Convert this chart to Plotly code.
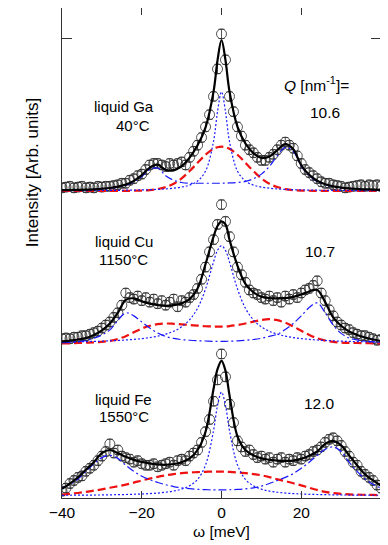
import plotly.graph_objects as go

# ---------------- data ----------------
# energy transfer grid of the fitted curves [meV]
W = [-40, -38, -36, -34, -32, -30, -28, -26, -24, -22, -20, -18, -16, -14, -12, -10, -8, -6, -4, -2,
     -1, 0, 1,
     2, 4, 6, 8, 10, 12, 14, 16, 18, 20, 22, 24, 26, 28, 30, 32, 34, 36, 38, 40]

# measured points (1 meV steps)
OMEGA_DATA = list(range(-40, 41))

GA_DATA = [.02, .025, .03, .02, .025, .03, .02, .025, .02, .03, .025, .03, .03, .035, .04, .05, .05, .07, .08, .1,
           .11, .14, .17, .18, .18, .17, .16, .18, .17, .18, .19, .17, .22, .26, .3, .35, .42, .5, .62, .8,
           1.03, .86, .62, .52, .42, .36, .3, .27, .25, .22, .2, .2, .22, .24, .27, .3, .32, .3, .28, .23,
           .18, .14, .12, .1, .08, .06, .05, .05, .04, .035, .03, .02, .025, .03, .035, .04, .03, .04, .035, .04, .03]
CU_DATA = [.03, .035, .03, .04, .04, .05, .05, .06, .07, .08, .1, .12, .14, .17, .2, .25, .33, .3, .29, .31,
           .28, .3, .27, .29, .26, .28, .25, .27, .29, .24, .28, .27, .3, .32, .36, .42, .5, .6, .68, .78,
           .91, .8, .7, .6, .5, .45, .4, .35, .33, .32, .3, .29, .31, .28, .3, .27, .31, .29, .32, .3,
           .33, .35, .36, .38, .41, .33, .28, .22, .18, .14, .12, .1, .09, .07, .06, .05, .05, .04, .03, .02, .025]
FE_DATA = [.03, .05, .08, .1, .12, .13, .16, .18, .2, .23, .26, .29, .34, .28, .3, .26, .25, .24, .22, .23,
           .21, .2, .2, .21, .19, .2, .21, .22, .2, .23, .24, .23, .26, .28, .3, .35, .42, .5, .62, .76,
           .93, .78, .6, .48, .36, .32, .29, .3, .27, .25, .26, .24, .25, .22, .24, .25, .22, .24, .23, .25,
           .24, .26, .27, .29, .3, .32, .35, .37, .38, .36, .33, .29, .26, .22, .2, .16, .14, .12, .1, .07, .05]

# fit components
GA_FIT = [0.005, 0.006, 0.007, 0.008, 0.0105, 0.014, 0.019, 0.028, 0.041, 0.066, 0.103, 0.153, 0.172, 0.138, 0.135, 0.162, 0.218, 0.299, 0.417, 0.651,
          0.856, 0.99, 0.857,
          0.653, 0.422, 0.311, 0.248, 0.217, 0.225, 0.268, 0.307, 0.273, 0.168, 0.106, 0.067, 0.044, 0.030, 0.022, 0.0165, 0.013, 0.010, 0.0088, 0.0066]
GA_CENTRAL = [0.0016, 0.0018, 0.002, 0.0022, 0.0025, 0.0029, 0.0033, 0.0038, 0.0045, 0.0053, 0.0064, 0.0079, 0.01, 0.013, 0.0176, 0.025, 0.038, 0.065, 0.13, 0.325,
              0.52, 0.65, 0.52,
              0.325, 0.13, 0.065, 0.038, 0.025, 0.0176, 0.013, 0.01, 0.0079, 0.0064, 0.0053, 0.0045, 0.0038, 0.0033, 0.0029, 0.0025, 0.0022, 0.002, 0.0018, 0.0016]
GA_BROAD = [0, 0, 0, 0, 0, 0, 0, 0, 0, 0.001, 0.002, 0.005, 0.012, 0.025, 0.047, 0.082, 0.13, 0.184, 0.237, 0.276,
            0.286, 0.29, 0.286,
            0.276, 0.237, 0.184, 0.13, 0.082, 0.047, 0.025, 0.012, 0.005, 0.002, 0.001, 0, 0, 0, 0, 0, 0, 0, 0, 0]
GA_SIDE = [0.003, 0.004, 0.005, 0.006, 0.008, 0.011, 0.016, 0.024, 0.036, 0.06, 0.095, 0.14, 0.15, 0.1, 0.07, 0.055, 0.05, 0.05, 0.05, 0.05,
           0.05, 0.05, 0.051,
           0.052, 0.055, 0.062, 0.08, 0.11, 0.16, 0.23, 0.285, 0.26, 0.16, 0.1, 0.062, 0.04, 0.027, 0.019, 0.014, 0.011, 0.008, 0.007, 0.005]

CU_FIT = [0.012, 0.018, 0.025, 0.035, 0.055, 0.085, 0.13, 0.2, 0.285, 0.295, 0.275, 0.26, 0.25, 0.245, 0.25, 0.262, 0.29, 0.36, 0.52, 0.7,
          0.77, 0.8, 0.78,
          0.68, 0.51, 0.39, 0.335, 0.305, 0.297, 0.295, 0.297, 0.305, 0.32, 0.34, 0.35, 0.27, 0.17, 0.115, 0.078, 0.055, 0.038, 0.025, 0.015]
CU_CENTRAL = [0.0079, 0.0088, 0.0098, 0.011, 0.0125, 0.014, 0.016, 0.0186, 0.0218, 0.0257, 0.031, 0.0376, 0.047, 0.06, 0.079, 0.108, 0.154, 0.23, 0.357, 0.534,
              0.61, 0.64, 0.61,
              0.534, 0.357, 0.23, 0.154, 0.108, 0.079, 0.06, 0.047, 0.0376, 0.031, 0.0257, 0.0218, 0.0186, 0.016, 0.014, 0.0125, 0.011, 0.0098, 0.0088, 0.0079]
CU_BROAD = [0, 0, 0.002, 0.004, 0.006, 0.01, 0.016, 0.028, 0.047, 0.072, 0.097, 0.115, 0.126, 0.13, 0.128, 0.124, 0.12, 0.116, 0.112, 0.11,
            0.11, 0.11, 0.111,
            0.113, 0.12, 0.13, 0.142, 0.153, 0.158, 0.152, 0.135, 0.11, 0.082, 0.055, 0.033, 0.018, 0.009, 0.005, 0.003, 0.002, 0.001, 0, 0]
CU_SIDE = [0.004, 0.006, 0.01, 0.018, 0.033, 0.055, 0.088, 0.15, 0.2, 0.18, 0.14, 0.1, 0.067, 0.045, 0.032, 0.024, 0.02, 0.017, 0.015, 0.013,
           0.013, 0.013, 0.013,
           0.014, 0.016, 0.02, 0.025, 0.033, 0.045, 0.06, 0.09, 0.13, 0.18, 0.235, 0.265, 0.2, 0.12, 0.065, 0.035, 0.022, 0.014, 0.01, 0.007]

FE_FIT = [0.045, 0.08, 0.12, 0.17, 0.22, 0.28, 0.3, 0.28, 0.255, 0.235, 0.222, 0.212, 0.205, 0.203, 0.208, 0.22, 0.245, 0.3, 0.42, 0.7,
          0.83, 0.885, 0.82,
          0.66, 0.39, 0.3, 0.265, 0.245, 0.236, 0.23, 0.228, 0.23, 0.242, 0.262, 0.29, 0.34, 0.36, 0.33, 0.265, 0.2, 0.14, 0.1, 0.065]
FE_CENTRAL = [0.0028, 0.0031, 0.0035, 0.0039, 0.0044, 0.005, 0.0058, 0.0067, 0.0079, 0.0094, 0.0113, 0.0139, 0.0175, 0.0227, 0.0305, 0.043, 0.065, 0.107, 0.202, 0.427,
              0.592, 0.68, 0.592,
              0.427, 0.202, 0.107, 0.065, 0.043, 0.0305, 0.0227, 0.0175, 0.0139, 0.0113, 0.0094, 0.0079, 0.0067, 0.0058, 0.005, 0.0044, 0.0039, 0.0035, 0.0031, 0.0028]
FE_BROAD = [0.008, 0.012, 0.018, 0.025, 0.033, 0.042, 0.052, 0.062, 0.073, 0.086, 0.1, 0.112, 0.124, 0.134, 0.142, 0.148, 0.152, 0.155, 0.157, 0.158,
            0.158, 0.158, 0.157,
            0.156, 0.153, 0.148, 0.142, 0.134, 0.122, 0.108, 0.095, 0.082, 0.068, 0.052, 0.038, 0.025, 0.017, 0.012, 0.009, 0.007, 0.006, 0.005, 0.004]
FE_SIDE = [0.05, 0.075, 0.11, 0.16, 0.21, 0.25, 0.265, 0.245, 0.2, 0.16, 0.128, 0.105, 0.087, 0.072, 0.06, 0.052, 0.046, 0.042, 0.04, 0.038,
           0.038, 0.038, 0.038,
           0.039, 0.041, 0.045, 0.052, 0.063, 0.08, 0.1, 0.12, 0.145, 0.18, 0.22, 0.265, 0.305, 0.32, 0.29, 0.22, 0.16, 0.11, 0.075, 0.05]

PANELS = [
    # name, temperature, Q, vertical offset, data, fit, central, broad, side
    ("liquid Ga", "40°C", "10.6", 2.0, GA_DATA, GA_FIT, GA_CENTRAL, GA_BROAD, GA_SIDE),
    ("liquid Cu", "1150°C", "10.7", 1.0, CU_DATA, CU_FIT, CU_CENTRAL, CU_BROAD, CU_SIDE),
    ("liquid Fe", "1550°C", "12.0", 0.0, FE_DATA, FE_FIT, FE_CENTRAL, FE_BROAD, FE_SIDE),
]

X_TICKS = [-40, -20, 0, 20, 40]

FONT = "Liberation Sans, Arial, Helvetica, sans-serif"
BLUE = "#1a1aff"
RED = "#ee1111"
FS = 15.5
FL = 15

fig = go.Figure()


def shift(vals, off):
    return [v + off for v in vals]


for name, temp, q, off, data, fit, central, broad, side in PANELS:
    fig.add_trace(go.Scatter(
        x=OMEGA_DATA, y=shift(data, off), mode="markers",
        marker=dict(symbol="circle-open", size=10, color="#2a2a2a", line=dict(width=0.8)),
        error_y=dict(type="constant", value=0.03, thickness=0.8, width=3, color="#2a2a2a"),
        showlegend=False, hoverinfo="skip"))
for name, temp, q, off, data, fit, central, broad, side in PANELS:
    fig.add_trace(go.Scatter(x=W, y=shift(broad, off), mode="lines", line_shape="spline",
                             line=dict(color=RED, width=2.2, dash="8px,4px"), showlegend=False))
    fig.add_trace(go.Scatter(x=W, y=shift(side, off), mode="lines", line_shape="spline",
                             line=dict(color=BLUE, width=1.2, dash="8px,3px,2px,3px"), showlegend=False))
    fig.add_trace(go.Scatter(x=W, y=shift(central, off), mode="lines", line_shape="spline",
                             line=dict(color=BLUE, width=1.2, dash="2px,2px"), showlegend=False))
    fig.add_trace(go.Scatter(x=W, y=shift(fit, off), mode="lines", line_shape="spline",
                             line=dict(color="black", width=2.2), showlegend=False))

# text labels (data coordinates)
ann = []
label_pos = {"liquid Ga": (2.552, 2.432), "liquid Cu": (1.665, 1.552), "liquid Fe": (0.632, 0.519)}
q_pos = {"10.6": 2.512, "10.7": 1.605, "12.0": 0.605}
for name, temp, q, off, *_ in PANELS:
    y1, y2 = label_pos[name]
    ann.append(dict(x=-24.5, y=y1, text=name, showarrow=False, xref="x", yref="y",
                    font=dict(size=FL, color="black", family=FONT)))
    tx = -22.3 if temp == "40°C" else -24.5
    ann.append(dict(x=tx, y=y2, text=temp, showarrow=False, xref="x", yref="y",
                    font=dict(size=FL, color="black", family=FONT)))
    ann.append(dict(x=26.0 if q == "10.6" else 24.6, y=q_pos[q], text=q, showarrow=False, xref="x", yref="y",
                    font=dict(size=FS, color="black", family=FONT)))
ann.append(dict(x=23.8, y=2.70, text="<i>Q</i> [nm<sup>-1</sup>]=", showarrow=False, xref="x", yref="y",
                font=dict(size=FS, color="black", family=FONT)))
ann.append(dict(x=0.5, y=(490 - 533) / 482, text="ω [meV]", showarrow=False, xref="paper", yref="paper",
                font=dict(size=FS, color="black", family=FONT)))
ann.append(dict(x=(21 - 62) / 319, y=(490 - 170) / 482, text="Intensity [Arb. units]", textangle=-90,
                showarrow=False, xref="paper", yref="paper",
                font=dict(size=17, color="black", family=FONT)))

# the page body has an 8 px default margin, so the figure is drawn 8 px smaller
fig.update_layout(
    width=380, height=537,
    margin=dict(l=54, r=7, t=0, b=47, autoexpand=False),
    paper_bgcolor="white", plot_bgcolor="white",
    annotations=ann,
    xaxis=dict(range=[-40, 40], tickvals=X_TICKS, ticks="inside", ticklen=7, tickcolor="#333",
               showline=True, linecolor="#333", linewidth=1, mirror="ticks", showgrid=False, zeroline=False,
               automargin=False, tickfont=dict(size=FS, color="black", family=FONT)),
    yaxis=dict(range=[-0.015, 3.2], tickvals=[3.0], showticklabels=False, ticks="inside", ticklen=10,
               tickcolor="#333", showline=True, linecolor="#333", linewidth=1, mirror="ticks",
               showgrid=False, zeroline=False, automargin=False),
)

fig.write_html("out.html")
